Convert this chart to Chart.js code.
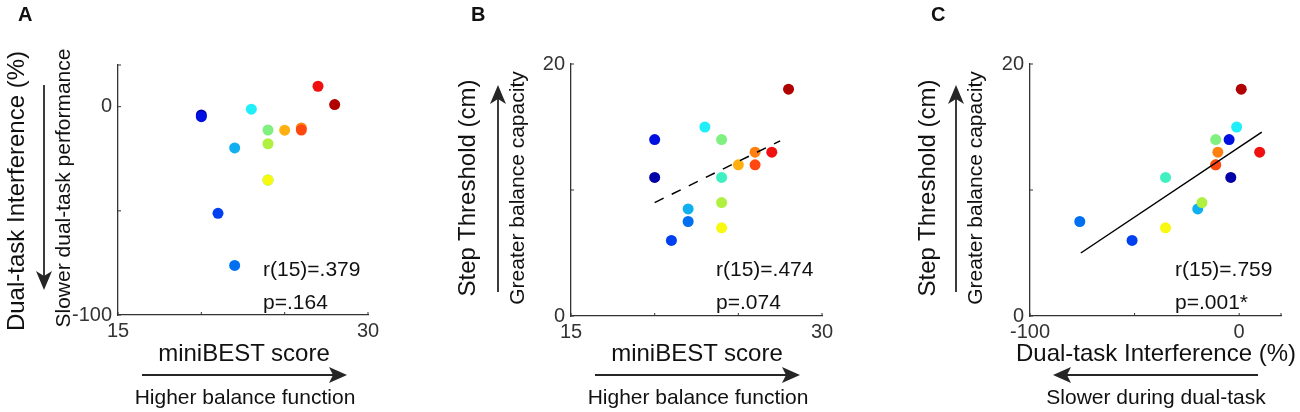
<!DOCTYPE html>
<html>
<head>
<meta charset="utf-8">
<script src="https://cdn.jsdelivr.net/npm/chart.js@4.4.1/dist/chart.umd.min.js"></script>
<style>
html,body{margin:0;padding:0;background:#fff;}
#stage{position:relative;width:1300px;height:412px;overflow:hidden;font-family:"Liberation Sans",Arial,Helvetica,sans-serif;color:#111;}
.panel{position:absolute;top:0;height:412px;}
.t{position:absolute;white-space:nowrap;line-height:1;}
.c{transform:translate(-50%,-50%);}
.r{transform:translate(-50%,-50%) rotate(-90deg);}
.l{transform:translateY(-50%);}
.big{font-size:24px;}
.mid{font-size:21px;}
.lab{font-size:20px;font-weight:bold;}
svg{position:absolute;left:0;top:0;}
</style>
</head>
<body>
<div id="stage">
  <div class="panel" style="left:0;width:420px"><canvas id="cA" width="420" height="412" style="width:420px;height:412px"></canvas></div>
  <div class="panel" style="left:420px;width:440px"><canvas id="cB" width="440" height="412" style="width:440px;height:412px"></canvas></div>
  <div class="panel" style="left:860px;width:440px"><canvas id="cC" width="440" height="412" style="width:440px;height:412px"></canvas></div>

  <svg width="1300" height="412" viewBox="0 0 1300 412">
    <g stroke="#262626" stroke-width="1.8" fill="none">
      <line x1="44" y1="85" x2="44" y2="278"/>
      <line x1="142" y1="375" x2="335" y2="375"/>
      <line x1="498" y1="292" x2="498" y2="98"/>
      <line x1="595" y1="375" x2="788" y2="375"/>
      <line x1="956" y1="292" x2="956" y2="98"/>
      <line x1="1258" y1="375" x2="1065" y2="375"/>
    </g>
    <g fill="#262626">
      <polygon points="44,290 36,271 44,276 52,271"/>
      <polygon points="347,375 329,367 333,375 329,383"/>
      <polygon points="498,85 490,104 498,99 506,104"/>
      <polygon points="800,375 782,367 786,375 782,383"/>
      <polygon points="956,85 948,104 956,99 964,104"/>
      <polygon points="1053,375 1071,367 1067,375 1071,383"/>
    </g>
  </svg>

  <div class="t lab" style="left:18px;top:4px">A</div>
  <div class="t lab" style="left:471px;top:4px">B</div>
  <div class="t lab" style="left:931px;top:4px">C</div>

  <div class="t big r" style="left:15.5px;top:191px">Dual-task Interference (%)</div>
  <div class="t mid r" style="left:62px;top:188px">Slower dual-task performance</div>
  <div class="t big c" style="left:244px;top:353px">miniBEST score</div>
  <div class="t mid c" style="left:245px;top:396px">Higher balance function</div>
  <div class="t mid l" style="left:263px;top:268px">r(15)=.379</div>
  <div class="t mid l" style="left:263px;top:301px">p=.164</div>

  <div class="t big r" style="left:467px;top:188px">Step Threshold (cm)</div>
  <div class="t mid r" style="left:516px;top:188px">Greater balance capacity</div>
  <div class="t big c" style="left:697px;top:353px">miniBEST score</div>
  <div class="t mid c" style="left:698px;top:396px">Higher balance function</div>
  <div class="t mid l" style="left:716px;top:268px">r(15)=.474</div>
  <div class="t mid l" style="left:716px;top:301px">p=.074</div>

  <div class="t big r" style="left:927px;top:188px">Step Threshold (cm)</div>
  <div class="t mid r" style="left:974px;top:188px">Greater balance capacity</div>
  <div class="t big c" style="left:1156px;top:353px">Dual-task Interference (%)</div>
  <div class="t mid c" style="left:1156px;top:396px">Slower during dual-task</div>
  <div class="t mid l" style="left:1175px;top:268px">r(15)=.759</div>
  <div class="t mid l" style="left:1175px;top:301px">p=.001*</div>
</div>

<script>
// ---- Data (one entry per participant, colour-coded) ----
const participantColors = ['#0000a8','#0010e0','#0040f0','#0070f0','#10b0f0','#20eef8','#40f0c0','#80f080','#b0f040','#f8f810','#ffb010','#ff8010','#ff4810','#f01010','#b00000'];
const miniBEST            = [20, 20, 21, 22, 22, 23, 24, 24, 24, 24, 25, 26, 26, 27, 28];
const dualTaskInterference = [-4, -4.8, -51.2, -76.2, -19.8, -1.2, -35.2, -11.2, -17.8, -35.2, -11.3, -10.2, -11.2, 9.8, 1];
const stepThreshold       = [11, 14, 6, 7.5, 8.5, 15, 11, 14, 9, 7, 12, 13, 12, 13, 18];

// regression lines (end points)
const fitBx = [20, 27.5];
const fitBy = [9.0, 13.9];
const fitCx = [-75.7, 10.8];
const fitCy = [5.0, 14.6];

// ticks
const ticksMiniBEST  = [15, 20, 25, 30];
const labelsMiniBEST = ['15', '', '', '30'];
const ticksDTI  = [-100, -50, 0, 20];
const labelsDTI = ['-100', '', '0', ''];
const ticksStep  = [0, 10, 20];
const labelsStep = ['0', '', '20'];

const axisColor = '#333333';
const tickFont = {family: '"Liberation Sans", Arial, sans-serif', size: 20};

const inwardTicks = {
  id: 'inwardTicks',
  afterDraw(chart) {
    const ctx = chart.ctx, a = chart.chartArea;
    const xs = chart.scales.x, ys = chart.scales.y;
    ctx.save();
    ctx.strokeStyle = axisColor;
    ctx.lineWidth = 1;
    ctx.beginPath();
    xs.ticks.forEach(t => { const p = xs.getPixelForValue(t.value); ctx.moveTo(p, a.bottom); ctx.lineTo(p, a.bottom - 3); });
    ys.ticks.forEach(t => { const p = ys.getPixelForValue(t.value); ctx.moveTo(a.left, p); ctx.lineTo(a.left + 3, p); });
    ctx.stroke();
    ctx.restore();
  }
};

function pts(xv, yv) { return xv.map((x, i) => ({x: x, y: yv[i]})); }

function makePanel(id, xv, yv, xr, yr, xt, xl, yt, yl, area, fit) {
  const canvas = document.getElementById(id);
  const W = canvas.width, H = canvas.height;
  const datasets = [{
    data: pts(xv, yv),
    pointBackgroundColor: participantColors,
    pointBorderWidth: 0,
    pointRadius: 5.5,
    pointHoverRadius: 5.5,
    showLine: false,
    order: 1
  }];
  if (fit) {
    datasets.push({
      data: pts(fit.x, fit.y),
      showLine: true,
      borderColor: '#000',
      borderWidth: 1.5,
      borderDash: fit.dash || [],
      pointRadius: 0,
      pointHoverRadius: 0,
      fill: false,
      order: 0
    });
  }
  const mkTicks = (vals) => (s) => { s.ticks = vals.map(v => ({value: v})); };
  return new Chart(canvas, {
    type: 'scatter',
    data: {datasets},
    plugins: [inwardTicks],
    options: {
      responsive: false,
      animation: false,
      events: [],
      layout: {padding: {left: 0, top: area.top, right: W - area.right, bottom: 0}},
      plugins: {legend: {display: false}, tooltip: {enabled: false}},
      scales: {
        x: {
          type: 'linear', position: 'bottom', min: xr[0], max: xr[1],
          afterBuildTicks: mkTicks(xt),
          afterFit: (s) => { s.height = H - area.bottom; },
          grid: {display: false, drawTicks: false, tickLength: 0},
          border: {display: true, color: axisColor, width: 1.3},
          ticks: {autoSkip: false, maxRotation: 0, padding: 4, color: axisColor, font: tickFont,
                  callback: (v) => { const i = xt.indexOf(v); return i >= 0 ? xl[i] : ''; }}
        },
        y: {
          type: 'linear', position: 'left', min: yr[0], max: yr[1],
          afterBuildTicks: mkTicks(yt),
          afterFit: (s) => { s.width = area.left; },
          grid: {display: false, drawTicks: false, tickLength: 0},
          border: {display: true, color: axisColor, width: 1.3},
          ticks: {autoSkip: false, padding: 6, color: axisColor, font: tickFont,
                  callback: (v) => { const i = yt.indexOf(v); return i >= 0 ? yl[i] : ''; }}
        }
      }
    }
  });
}

makePanel('cA', miniBEST, dualTaskInterference, [15, 30], [-100, 20],
  ticksMiniBEST, labelsMiniBEST, ticksDTI, labelsDTI,
  {left: 118, right: 368, top: 65, bottom: 315}, null);

makePanel('cB', miniBEST, stepThreshold, [15, 30], [0, 20],
  ticksMiniBEST, labelsMiniBEST, ticksStep, labelsStep,
  {left: 151, right: 402, top: 64, bottom: 316}, {x: fitBx, y: fitBy, dash: [10, 9]});

makePanel('cC', dualTaskInterference, stepThreshold, [-100, 20], [0, 20],
  ticksDTI, labelsDTI, ticksStep, labelsStep,
  {left: 170, right: 421, top: 64, bottom: 316}, {x: fitCx, y: fitCy});
</script>
</body>
</html>
